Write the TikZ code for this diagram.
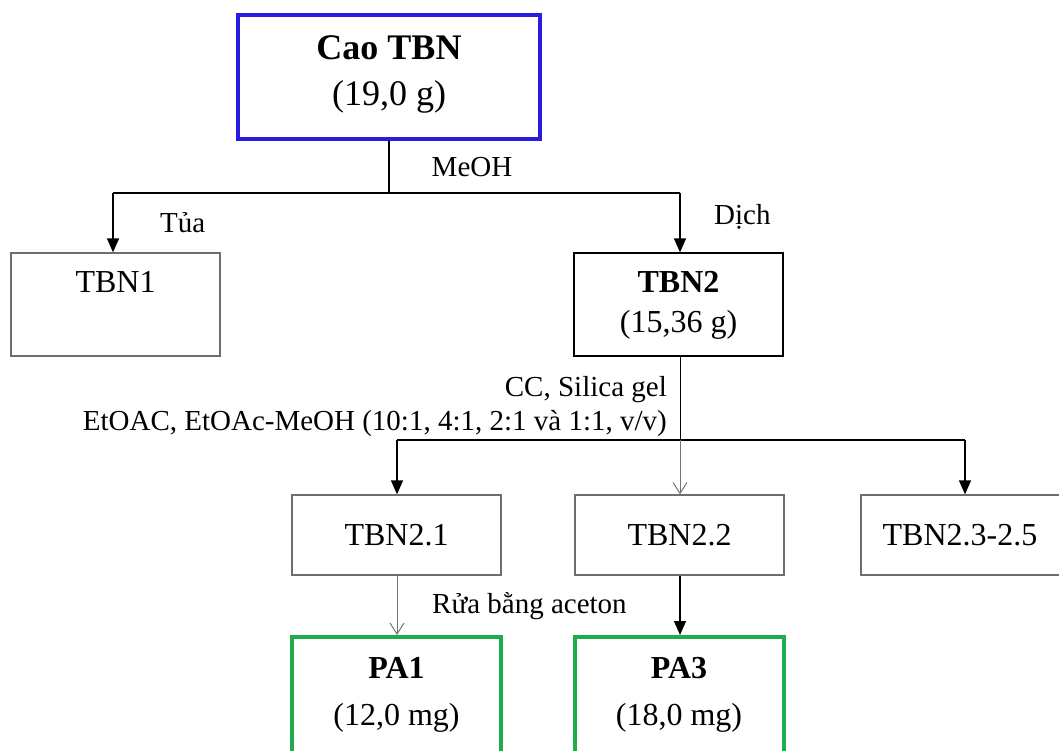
\documentclass[tikz,border=0pt]{standalone}
\usepackage{fontspec}
\setmainfont{Liberation Serif}
\usetikzlibrary{arrows.meta}

\definecolor{headblue}{RGB}{40,28,222}
\definecolor{prodgreen}{RGB}{30,172,78}
\definecolor{boxgray}{RGB}{110,110,110}

\tikzset{
  x=1pt, y=-1pt,
  box/.style={draw=boxgray, line width=1.3pt, minimum width=209pt, inner sep=0pt},
  headbox/.style={draw=headblue, line width=4pt, minimum width=302pt, minimum height=124pt, inner sep=0pt},
  prodbox/.style={draw=prodgreen, line width=4pt, minimum width=209pt, minimum height=150pt, inner sep=0pt},
  bigtxt/.style={font=\fontsize{36}{46}\selectfont, align=center, inner sep=0pt},
  boxtxt/.style={font=\fontsize{32}{40}\selectfont, align=center, inner sep=0pt},
  prodtxt/.style={font=\fontsize{32}{47}\selectfont, align=center, inner sep=0pt},
  lbl/.style={font=\fontsize{29}{34}\selectfont, inner sep=0pt},
  link/.style={line width=1.5pt, draw=black},
  arrowf/.style={link, -{Triangle[length=14pt, width=12pt]}},
  arrowo/.style={line width=1pt, draw=black!55, -{Straight Barb[length=11pt, width=14pt, line width=1pt]}},
}

\begin{document}
\begin{tikzpicture}
\useasboundingbox (0,0) rectangle (1059,751);

% starting extract
\node[headbox] (cao) at (389,77) {};
\node[bigtxt] (caotxt) at (389,74) {\textbf{Cao TBN}\\(19,0 g)};

% first partition
\node[box, minimum height=103pt] (tbn1) at (115.5,304.5) {};
\node[boxtxt] (tbn1txt) at (115.5,282) {TBN1};
\node[box, draw=black, minimum height=103pt] (tbn2) at (678.5,304.5) {};
\node[boxtxt] (tbn2txt) at (678.5,305.5) {\textbf{TBN2}\\(15,36 g)};

% fractions from column chromatography
\node[box, minimum height=80pt] (t21) at (396.5,535) {};
\node[boxtxt] (t21txt) at (396.5,535) {TBN2.1};
\node[box, minimum height=80pt] (t22) at (679.5,535) {};
\node[boxtxt] (t22txt) at (679.5,535) {TBN2.2};
\node[box, minimum height=80pt] (t23) at (965.5,535) {};
\node[boxtxt] (t23txt) at (960,535) {TBN2.3-2.5};

% isolated compounds
\node[prodbox] (pa1) at (396.5,712) {};
\node[prodtxt] (pa1txt) at (396.5,695) {\textbf{PA1}\\(12,0 mg)};
\node[prodbox] (pa3) at (679,712) {};
\node[prodtxt] (pa3txt) at (679,695) {\textbf{PA3}\\(18,0 mg)};

% branch points
\coordinate (j1)  at (389,193);
\coordinate (j1l) at (113,193);
\coordinate (j1r) at (680,193);
\coordinate (j2)  at (680,440);
\coordinate (j2l) at (397,440);
\coordinate (j2r) at (965,440);

% connectors
\draw[link] (cao.south -| j1) -- (j1);
\draw[link] (j1l) -- (j1r);
\draw[arrowf] (j1l) -- (j1l |- tbn1.north);
\draw[arrowf] (j1r) -- (j1r |- tbn2.north);

\draw[link, line width=1pt] (tbn2.south -| j2) -- (j2);
\draw[link] (j2l) -- (j2r);
\draw[arrowf] (j2l) -- (j2l |- t21.north);
\draw[arrowo] (j2) -- (j2 |- t22.north);
\draw[arrowf] (j2r) -- (j2r |- t23.north);

\draw[arrowo] (t21.south -| j2l) -- (j2l |- pa1.north);
\draw[arrowf] (t22.south -| j2) -- (j2 |- pa3.north);

% step labels
\node[lbl, anchor=base] (meoh) at (472,177) {MeOH};
\node[lbl, anchor=base west] (tua) at (160,233) {Tủa};
\node[lbl, anchor=base west] (dich) at (714,225) {Dịch};
\node[lbl, anchor=base east] (cc) at (667,396) {CC, Silica gel};
\node[lbl, anchor=base east] (elu) at (667,430) {EtOAC, EtOAc-MeOH (10:1, 4:1, 2:1 và 1:1, v/v)};
\node[lbl, anchor=base west] (rua) at (432,613) {Rửa bằng aceton};
\end{tikzpicture}
\end{document}
